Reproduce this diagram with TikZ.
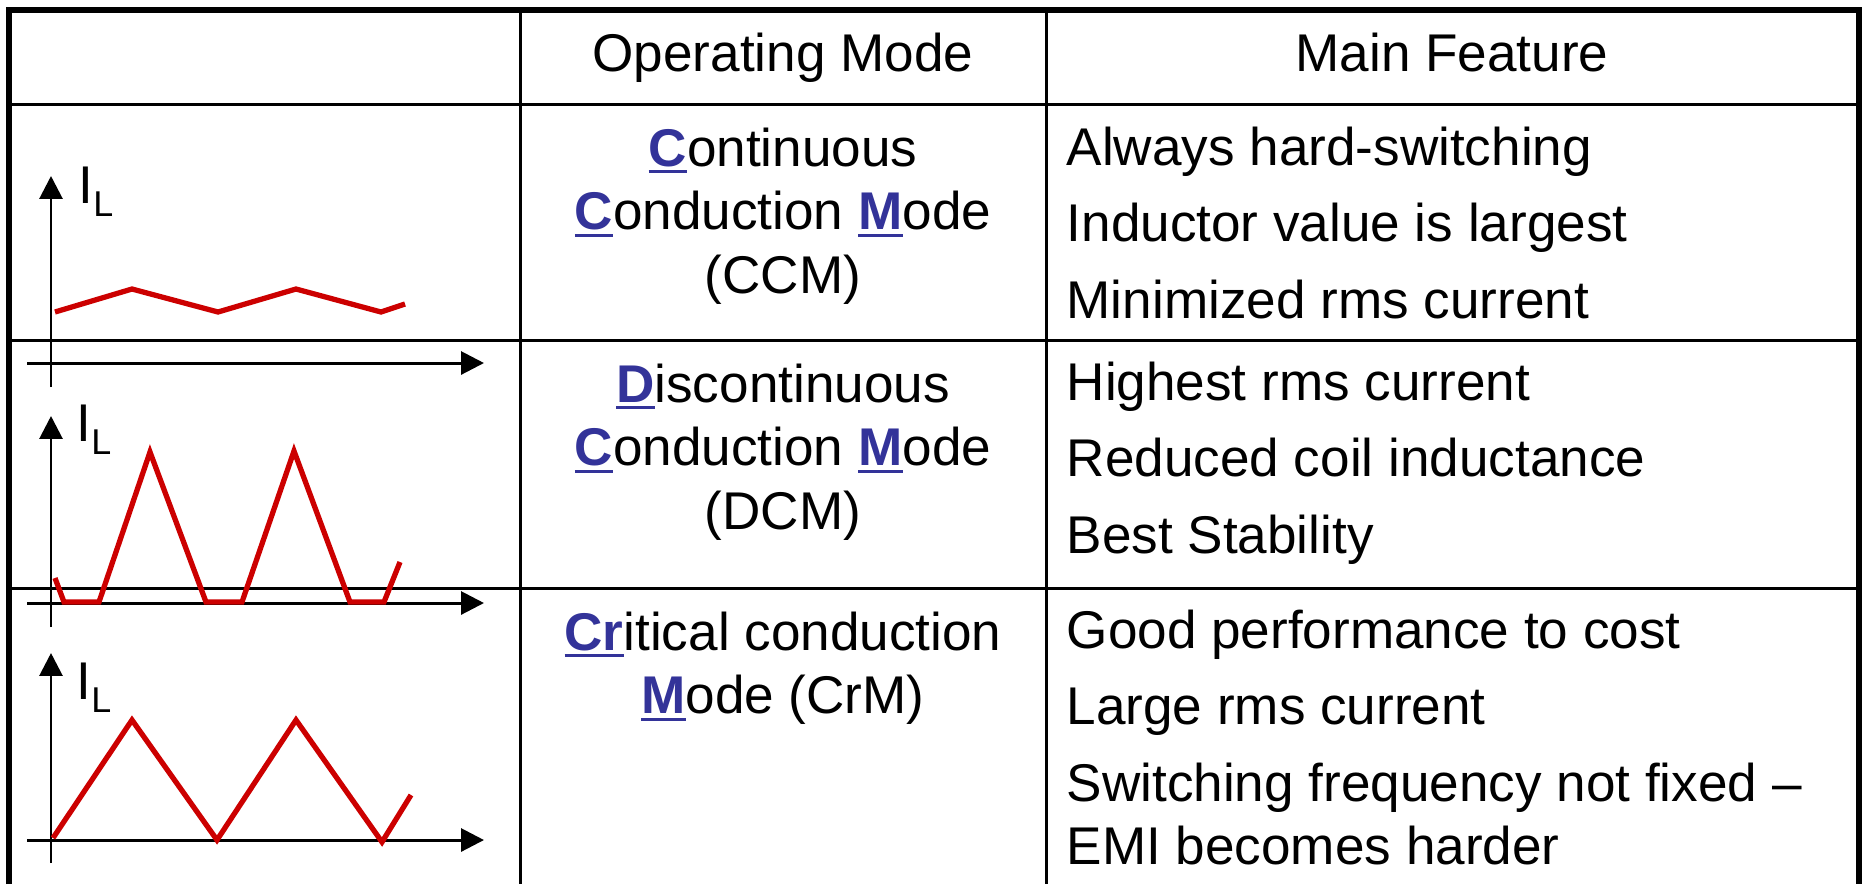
\documentclass[tikz,border=0pt]{standalone}
\usepackage{fontspec}
\setmainfont{Liberation Sans}
\usetikzlibrary{arrows.meta}

\definecolor{wavered}{RGB}{204,0,0}
\definecolor{keyblue}{RGB}{51,51,153}

% bold blue initial with its own underline
\newcommand\keyl[1]{{\color{keyblue}\bfseries\setbox0\hbox{#1}\rlap{\rule[-2.1pt]{\wd0}{0.85pt}}\box0}}
% axis label I_L
\newcommand\ilabel{I\raisebox{-3.8pt}{\fontsize{10.2}{12}\selectfont L}}
% cell text, baseline on its first line
\newcommand\cellc[1]{\begin{tabular}[t]{@{}c@{}}#1\end{tabular}}
\newcommand\celll[1]{\begin{tabular}[t]{@{}l@{}}#1\end{tabular}}

\begin{document}
\begin{tikzpicture}[x=0.01cm, y=-0.01cm,
    txt/.style={inner sep=0pt, font=\fontsize{15.1}{18.07}\selectfont},
    grid/.style={line width=0.85pt},
    frame/.style={line width=1.7pt},
    axis/.style={line width=0.85pt, -{Triangle[length=6.5pt, width=6.5pt]}},
    wave/.style={line width=1.5pt, wavered}]
  \useasboundingbox (0,0) rectangle (1864,884);

  % table lines
  \draw[frame] (9,884) -- (9,10) -- (1859,10) -- (1859,884);
  \foreach \y in {104,340,588}
    \draw[grid] (9,\y) -- (1859,\y);
  \foreach \x in {520,1046}
    \draw[grid] (\x,10) -- (\x,884);

  % header
  \node[txt, anchor=base] (hmode) at (783,71) {Operating Mode};
  \node[txt, anchor=base] (hfeat) at (1452,71) {Main Feature};

  % operating modes
  \node[txt, anchor=base] (ccm) at (783,166)
    {\cellc{\keyl{C}ontinuous\\\keyl{C}onduction \keyl{M}ode\\(CCM)}};
  \node[txt, anchor=base] (dcm) at (783,402)
    {\cellc{\keyl{D}iscontinuous\\\keyl{C}onduction \keyl{M}ode\\(DCM)}};
  \node[txt, anchor=base] (crm) at (783,650)
    {\cellc{\keyl{Cr}itical conduction\\\keyl{M}ode (CrM)}};

  % features
  \node[txt, anchor=base west] (fccm) at (1066,165)
    {\celll{Always hard-switching\\[3.7pt]Inductor value is largest\\[3.7pt]Minimized rms current}};
  \node[txt, anchor=base west] (fdcm) at (1066,400)
    {\celll{Highest rms current\\[3.7pt]Reduced coil inductance\\[3.7pt]Best Stability}};
  \node[txt, anchor=base west] (fcrm) at (1066,648)
    {\celll{Good performance to cost\\[3.7pt]Large rms current\\[3.7pt]Switching frequency not fixed --\\EMI becomes harder}};

  % current axes
  \foreach \top/\xax/\bot in {176/363/387, 416/603/627, 653/840/863} {
    \draw[axis] (51,\bot) -- (51,\top);
    \draw[axis] (27,\xax) -- (484,\xax);
  }
  \node[txt, anchor=base west] (il1) at (78,203) {\ilabel};
  \node[txt, anchor=base west] (il2) at (76,441) {\ilabel};
  \node[txt, anchor=base west] (il3) at (76,699) {\ilabel};

  % inductor currents
  \draw[wave] (55,312) -- (132,289) -- (218,312) -- (296,289) -- (381,312) -- (405,304);
  \draw[wave] (55,578) -- (64,602) -- (99,602) -- (150,452) -- (206,602) -- (242,602)
    -- (294,451) -- (350,602) -- (384,602) -- (400,562);
  \draw[wave] (53,838) -- (132,720) -- (217,840) -- (296,720) -- (382,842) -- (411,795);
\end{tikzpicture}
\end{document}
